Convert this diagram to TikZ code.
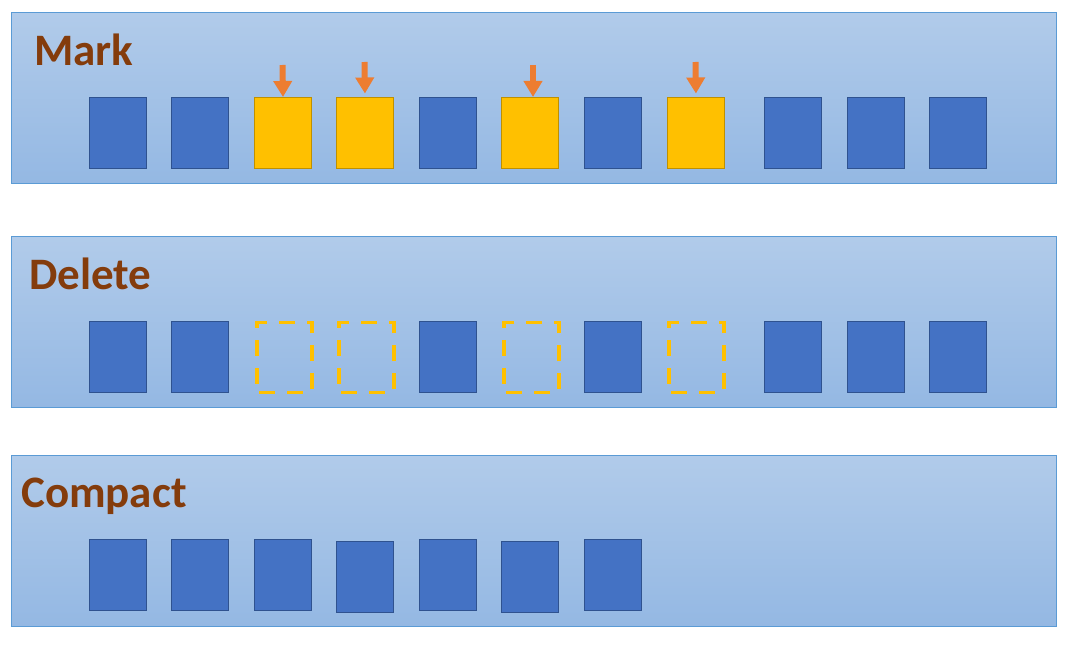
\documentclass[tikz,border=0pt]{standalone}
\usepackage{fontspec}
\setmainfont{Carlito}
\usetikzlibrary{arrows.meta}
\definecolor{panelTop}{HTML}{B1CBEA}
\definecolor{panelBot}{HTML}{94B8E3}
\definecolor{panelLine}{HTML}{5B9BD5}
\definecolor{blkFill}{HTML}{4472C4}
\definecolor{blkLine}{HTML}{2F528F}
\definecolor{mkFill}{HTML}{FFC000}
\definecolor{mkLine}{HTML}{BF9000}
\definecolor{arrCol}{HTML}{ED7D31}
\definecolor{ttlCol}{HTML}{843C0C}
\begin{document}
\begin{tikzpicture}[x=1pt,y=-1pt,
  panel/.style={draw=panelLine, line width=1pt, top color=panelTop, bottom color=panelBot},
  cell/.style={inner sep=0pt, minimum width=57pt, minimum height=71pt, anchor=north west},
  blk/.style={cell, fill=blkFill, draw=blkLine, line width=1pt},
  mkd/.style={cell, fill=mkFill, draw=mkLine, line width=1pt},
  gone/.style={cell, minimum width=55pt, minimum height=70pt, draw=mkFill, line width=3.8pt, dash pattern=on 16pt off 12pt, dash phase=-2pt},
  ttl/.style={anchor=base west, inner sep=0pt, text=ttlCol, font=\bfseries\fontsize{45}{54}\selectfont},
  pointer/.style={draw=arrCol, line width=6pt, -{Triangle[width=18pt,length=16pt]}}
]
\useasboundingbox (0,0) rectangle (1070,652);
% panels
\path[panel] (11,13) rectangle (1056,184);
\path[panel] (11,237) rectangle (1056,407);
\path[panel] (11,455) rectangle (1056,626);
% titles
\node[ttl] (tmark) at (34,66) {Mark};
\node[ttl] (tdel) at (29,289) {Delete};
\node[ttl] (tcomp) at (21,507) {Compact};
% Mark row
\foreach \x/\s [count=\i] in {89/blk,171/blk,254/mkd,336/mkd,419/blk,501/mkd,584/blk,667/mkd,764/blk,847/blk,929/blk}
  \node[\s] (m\i) at (\x,97) {};
% Delete row
\foreach \x/\s [count=\i] in {89/blk,171/blk,255.2/gone,337.2/gone,419/blk,502.2/gone,584/blk,667.2/gone,764/blk,847/blk,929/blk}
  \node[\s] (d\i) at (\x,320.5) {};
% Compact row
\foreach \x/\y [count=\i] in {89/539.3,171/539.3,254/539.3,336/541.3,419/539.3,501/541.3,584/539.3}
  \node[blk] (c\i) at (\x,\y) {};
% arrows
\coordinate (a3) at (282.5,65);
\coordinate (a4) at (364.5,62);
\coordinate (a6) at (533,65);
\coordinate (a8) at (695.5,62);
\draw[pointer] (a3) -- (m3.north);
\draw[pointer, shorten >=3.5pt] (a4) -- (m4.north);
\draw[pointer] (a6) -- (m6.north -| a6);
\draw[pointer, shorten >=3.5pt] (a8) -- (m8.north);
\end{tikzpicture}
\end{document}
